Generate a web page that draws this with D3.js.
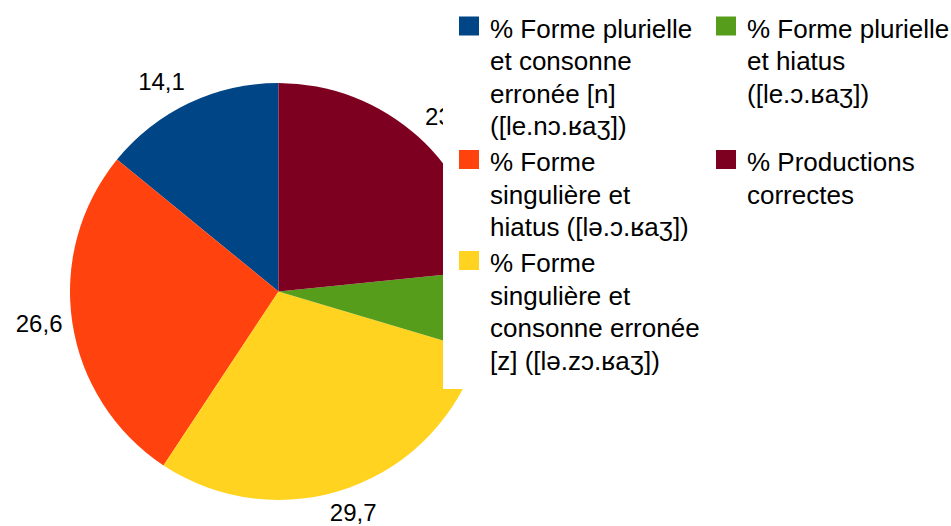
<!DOCTYPE html>
<html>
<head>
<meta charset="utf-8">
<script src="https://cdn.jsdelivr.net/npm/d3@7.9.0/dist/d3.min.js"></script>
<style>
  body { margin: 0; background: #fff; }
  svg { font-family: "Liberation Sans", Arial, sans-serif; }
</style>
</head>
<body>
<svg width="951" height="526"></svg>
<script>
// data, in the order the chart draws it
const categories = [
  '% Forme plurielle et consonne erronée [n] ([le.nɔ.ʁaʒ])',
  '% Forme singulière et hiatus ([lə.ɔ.ʁaʒ])',
  '% Forme singulière et consonne erronée [z] ([lə.zɔ.ʁaʒ])',
  '% Forme plurielle et hiatus ([le.ɔ.ʁaʒ])',
  '% Productions correctes'
];
const values = [14.1, 26.6, 29.7, 6.2, 23.4];
const colorList = ['#004586', '#ff420e', '#ffd320', '#579d1c', '#7e0021'];
// legend lines as wrapped in the picture
const legendLines = [
  ['% Forme plurielle', 'et consonne', 'erronée [n]', '([le.nɔ.ʁaʒ])'],
  ['% Forme', 'singulière et', 'hiatus ([lə.ɔ.ʁaʒ])'],
  ['% Forme', 'singulière et', 'consonne erronée', '[z] ([lə.zɔ.ʁaʒ])'],
  ['% Forme plurielle', 'et hiatus', '([le.ɔ.ʁaʒ])'],
  ['% Productions', 'correctes']
];
// legend grid: rows of [left item, right item]
const legendRows = [[0, 3], [1, 4], [2, null]];

const svg = d3.select('svg');
const cx = 278.5, cy = 291.5, r = 208.5;
const color = d3.scaleOrdinal().domain(categories).range(colorList);

// slices go counter-clockwise from 12 o'clock
const pie = d3.pie().sort(null).value(d => d.value)
  .startAngle(0).endAngle(-2 * Math.PI);
const data = categories.map((c, i) => ({ label: c, value: values[i] }));
const arcData = pie(data);
const arcGen = d3.arc().innerRadius(0).outerRadius(r);

const g = svg.append('g').attr('transform', `translate(${cx},${cy})`);
g.selectAll('path')
  .data(arcData)
  .enter()
  .append('path')
  .attr('d', arcGen)
  .attr('fill', d => color(d.data.label));

// value labels outside the pie
arcData.forEach(d => {
  let mid = (d.startAngle + d.endAngle) / 2;
  let dx = Math.sin(mid), dy = -Math.cos(mid);
  let px = (r + 10) * dx, py = (r + 10) * dy;
  let anchor = Math.abs(dx) < 0.4 ? 'middle' : (dx > 0 ? 'start' : 'end');
  let yOff = Math.abs(dy) < 0.4 ? 8 : (dy < 0 ? -4 : 24);
  g.append('text')
    .attr('x', px)
    .attr('y', py + yOff)
    .attr('text-anchor', anchor)
    .attr('font-size', 24)
    .attr('fill', '#000')
    .text(String(d.data.value).replace('.', ','));
});

// legend sits on a white box over the right of the pie
svg.append('rect')
  .attr('x', 443).attr('y', 0)
  .attr('width', 951 - 443).attr('height', 389)
  .attr('fill', '#fff');

const lineH = 32.5;
const colX = [459, 716];
let y = 37.5;
legendRows.forEach(row => {
  let maxLines = 0;
  row.forEach((idx, c) => {
    if (idx === null) return;
    svg.append('rect')
      .attr('x', colX[c]).attr('y', y - 21)
      .attr('width', 20).attr('height', 19)
      .attr('fill', colorList[idx]);
    legendLines[idx].forEach((ln, k) => {
      svg.append('text')
        .attr('x', colX[c] + 31)
        .attr('y', y + k * lineH)
        .attr('font-size', 26)
        .attr('fill', '#000')
        .text(ln);
    });
    maxLines = Math.max(maxLines, legendLines[idx].length);
  });
  y += maxLines * lineH + 3.5;
});
</script>
</body>
</html>
